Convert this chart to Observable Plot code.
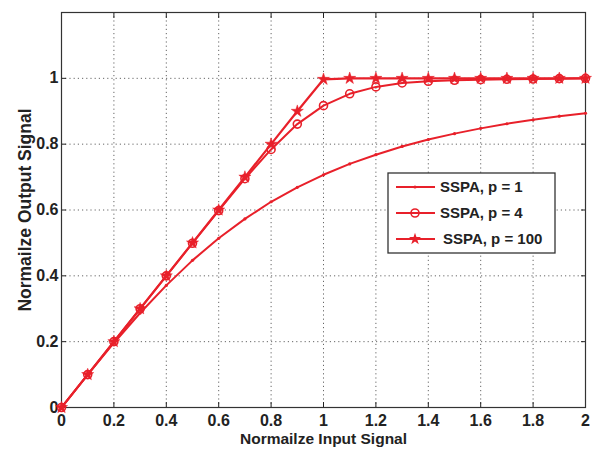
<!DOCTYPE html>
<html><head><meta charset="utf-8">
<script src="https://cdn.jsdelivr.net/npm/d3@7"></script>
<script src="https://cdn.jsdelivr.net/npm/@observablehq/plot@0.6"></script>
<style>
body{margin:0;background:#fff;}
#wrap{position:relative;width:592px;height:451px;}
#legend{position:absolute;left:0;top:0;}
</style></head><body><div id="wrap"></div>
<script>
const xIn = [0,0.1,0.2,0.3,0.4,0.5,0.6,0.7,0.8,0.9,1.0,1.1,1.2,1.3,1.4,1.5,1.6,1.7,1.8,1.9,2.0];
const outP1 = [0,0.100,0.196,0.287,0.371,0.447,0.514,0.573,0.625,0.669,0.707,0.740,0.768,0.793,0.814,0.832,0.848,0.862,0.874,0.885,0.894];
const outP4 = [0,0.100,0.200,0.300,0.400,0.499,0.598,0.695,0.784,0.861,0.917,0.953,0.974,0.986,0.991,0.994,0.996,0.997,0.998,0.999,1.000];
const outP100 = [0,0.100,0.200,0.300,0.400,0.500,0.600,0.700,0.800,0.900,0.997,1,1,1,1,1,1,1,1,1,1];
const seriesNames = ["SSPA, p = 1","SSPA, p = 4","SSPA, p = 100"];
const xTicks = [0,0.2,0.4,0.6,0.8,1,1.2,1.4,1.6,1.8,2];
const yTicks = [0,0.2,0.4,0.6,0.8,1];
const xLabel = "Normailze Input Signal";
const yLabel = "Normailze Output Signal";

const red = "#e8202a";
const rows = (vals, name) => xIn.map((x,i)=>({x, y: vals[i], s: name}));
const d1 = rows(outP1, seriesNames[0]);
const d4 = rows(outP4, seriesNames[1]);
const d100 = rows(outP100, seriesNames[2]);
const fmt = d => String(+(+d).toFixed(1));
const gridStyle = {stroke:"#666", strokeOpacity:1, strokeDasharray:"1.2,3", strokeWidth:1};
const narrow = "'Liberation Sans Narrow', 'Arial Narrow', 'Liberation Sans', Arial, sans-serif";

const chart = Plot.plot({
  width:592, height:451, marginLeft:61, marginRight:7, marginTop:12, marginBottom:44,
  x:{domain:[0,2]}, y:{domain:[0,1.2]},
  style:{fontFamily:"'Liberation Sans', Arial, sans-serif", fontSize:"15px", fontWeight:"bold", color:"#222", background:"#fff"},
  marks:[
    Plot.gridX(xTicks.slice(1,-1), gridStyle),
    Plot.gridY(yTicks.slice(1), gridStyle),
    Plot.axisX(xTicks, {anchor:"bottom", tickSize:-5, tickPadding:12, tickFormat:fmt, label:null, fontSize:16, fontFamily:narrow}),
    Plot.axisX(xTicks, {anchor:"top", tickSize:-5, tickFormat:()=>"", label:null}),
    Plot.axisY(yTicks, {anchor:"left", tickSize:-5, tickPadding:8, tickFormat:fmt, label:null, fontSize:16, fontFamily:narrow}),
    Plot.axisY(yTicks, {anchor:"right", tickSize:-5, tickFormat:()=>"", label:null}),
    Plot.frame({stroke:"#333", strokeWidth:1.2}),
    Plot.line(d1, {x:"x", y:"y", stroke:red, strokeWidth:2}),
    Plot.dot(d1, {x:"x", y:"y", r:1.6, fill:red}),
    Plot.line(d4, {x:"x", y:"y", stroke:red, strokeWidth:2}),
    Plot.dot(d4, {x:"x", y:"y", r:4, stroke:red, strokeWidth:1.6, fill:"none"}),
    Plot.line(d100, {x:"x", y:"y", stroke:red, strokeWidth:2.2}),
    Plot.dot(d100, {x:"x", y:"y", symbol:"star", r:3.8, fill:red, stroke:red, strokeWidth:0.5}),
    Plot.text([xLabel], {frameAnchor:"bottom", dy:32, lineAnchor:"middle", textAnchor:"middle", fontSize:15.5, fill:"#222"}),
    Plot.text([yLabel], {frameAnchor:"left", dx:-36, rotate:-90, lineAnchor:"middle", textAnchor:"middle", fontSize:17.5, fill:"#222"})
  ]
});
document.getElementById("wrap").appendChild(chart);

// legend overlay
const lg = d3.select("#wrap").append("svg").attr("id","legend").attr("width",592).attr("height",451)
  .style("font-family","'Liberation Sans', Arial, sans-serif").style("font-weight","bold").style("font-size","15px");
lg.append("rect").attr("x",388).attr("y",173).attr("width",167).attr("height",80)
  .attr("fill","#fff").attr("stroke","#333").attr("stroke-width",1.3);
const markers = [
  g => g.append("circle").attr("r",1.6).attr("fill",red),
  g => g.append("circle").attr("r",4).attr("fill","none").attr("stroke",red).attr("stroke-width",1.6),
  g => g.append("path").attr("d", d3.symbol(d3.symbolStar, Math.PI*3.8*3.8)()).attr("fill",red)
];
seriesNames.forEach((name,i)=>{
  const y = 187 + i*26;
  lg.append("line").attr("x1",396).attr("x2",435).attr("y1",y).attr("y2",y).attr("stroke",red).attr("stroke-width",2);
  markers[i](lg.append("g").attr("transform",`translate(415,${y})`));
  lg.append("text").attr("x", i===2 ? 443 : 440).attr("y",y).attr("dy","0.35em").attr("fill","#222").text(name);
});
</script></body></html>
